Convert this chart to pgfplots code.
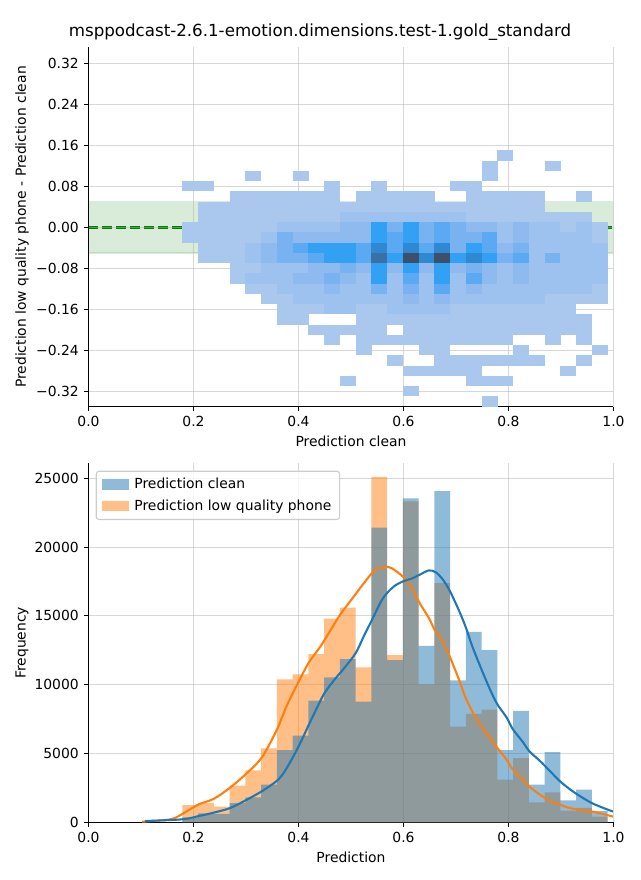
\documentclass[border=0pt]{standalone}
\usepackage{fontspec}
\setmainfont{DejaVu Sans}
\usepackage{pgfplots}
\pgfplotsset{compat=1.18}
\definecolor{mplblue}{RGB}{31,119,180}
\definecolor{mplorange}{RGB}{255,127,14}
\definecolor{mplgreen}{RGB}{0,128,0}
\definecolor{gridc}{RGB}{176,176,176}
\definecolor{legblue}{RGB}{143,187,217}
\definecolor{legorange}{RGB}{255,191,134}
\definecolor{legframe}{RGB}{204,204,204}
\pgfdeclareplotmark{hcell}{\pgfpathrectanglecorners{\pgfqpoint{-5.72pt}{-3.71pt}}{\pgfqpoint{5.72pt}{3.71pt}}\pgfusepathqfill}
\pgfplotsset{
  mplax/.style={
    scale only axis, width=378pt, height=258.6pt,
    xmin=0, xmax=1,
    axis x line*=bottom, axis y line*=left,
    axis line style={line width=0.8pt, black, -},
    tick align=outside, major tick length=3.5pt,
    major tick style={black, line width=0.8pt},
    grid=major, major grid style={gridc, opacity=0.5, line width=0.8pt},
    tick label style={font=\fontsize{10}{12}\selectfont},
    label style={font=\fontsize{10}{12}\selectfont},
    scaled x ticks=false, scaled y ticks=false,
    xtick={0,0.2,0.4,0.6,0.8,1}, xticklabels={0.0,0.2,0.4,0.6,0.8,1.0},
    every axis y label/.style={at={(axis description cs:-0.1267,0.5)}, rotate=90, anchor=center},
    every axis x label/.style={at={(axis description cs:0.5,-0.096)}, anchor=center},
  }
}
\begin{document}
\begin{tikzpicture}[x=1pt,y=1pt]
\useasboundingbox (0,0) rectangle (460.8,633.6);
\begin{axis}[mplax, at={(63.7pt,340.85pt)}, anchor=south west,
  ymin=-0.350, ymax=0.351,
  ytick={-0.32,-0.24,-0.16,-0.08,0,0.08,0.16,0.24,0.32},
  yticklabels={−0.32,−0.24,−0.16,−0.08,0.00,0.08,0.16,0.24,0.32},
  xlabel={Prediction clean},
  ylabel={Prediction low quality phone - Prediction clean},
  axis on top,
  colormap={sb}{rgb255=(170,200,238) rgb255=(158,194,239) rgb255=(142,186,240) rgb255=(120,178,241) rgb255=(90,169,242) rgb255=(50,161,243) rgb255=(46,137,210) rgb255=(58,112,166) rgb255=(60,80,105)},
  point meta min=1, point meta max=9]
\addplot[draw=mplgreen, draw opacity=0.15, fill=mplgreen, fill opacity=0.15, line width=1pt, forget plot]
  coordinates {(0,-0.05) (1,-0.05) (1,0.05) (0,0.05)} -- cycle;
\addplot[scatter, only marks, mark=hcell, point meta=explicit, scatter/use mapped color={fill=mapped color}, forget plot] coordinates {
(0.794,0.14)[1]
(0.764,0.12)[1] (0.884,0.12)[1]
(0.314,0.10)[1] (0.404,0.10)[1] (0.764,0.10)[1]
(0.194,0.08)[1] (0.224,0.08)[1] (0.464,0.08)[1] (0.554,0.08)[1] (0.704,0.08)[1] (0.734,0.08)[1]
(0.284,0.06)[1] (0.314,0.06)[1] (0.344,0.06)[1] (0.374,0.06)[1] (0.404,0.06)[1] (0.434,0.06)[1] (0.464,0.06)[1] (0.524,0.06)[1] (0.554,0.06)[1] (0.584,0.06)[1] (0.614,0.06)[1] (0.644,0.06)[1] (0.734,0.06)[1] (0.764,0.06)[1] (0.794,0.06)[1] (0.824,0.06)[1] (0.854,0.06)[1] (0.944,0.06)[1]
(0.224,0.04)[1] (0.254,0.04)[1] (0.284,0.04)[1] (0.314,0.04)[1] (0.344,0.04)[1] (0.374,0.04)[1] (0.404,0.04)[1] (0.434,0.04)[1] (0.464,0.04)[1] (0.494,0.04)[1] (0.524,0.04)[1] (0.554,0.04)[1] (0.584,0.04)[1] (0.614,0.04)[1] (0.644,0.04)[1] (0.674,0.04)[1] (0.704,0.04)[1] (0.734,0.04)[1] (0.764,0.04)[1] (0.794,0.04)[1] (0.824,0.04)[1] (0.854,0.04)[1]
(0.224,0.02)[1] (0.254,0.02)[1] (0.284,0.02)[1] (0.314,0.02)[1] (0.344,0.02)[1] (0.374,0.02)[1] (0.404,0.02)[1] (0.434,0.02)[1] (0.464,0.02)[1] (0.494,0.02)[2] (0.524,0.02)[2] (0.554,0.02)[2] (0.584,0.02)[2] (0.614,0.02)[2] (0.644,0.02)[2] (0.674,0.02)[2] (0.704,0.02)[2] (0.734,0.02)[1] (0.764,0.02)[1] (0.794,0.02)[1] (0.824,0.02)[1] (0.854,0.02)[1] (0.884,0.02)[1] (0.914,0.02)[1] (0.944,0.02)[1]
(0.194,0)[1] (0.224,0)[1] (0.254,0)[1] (0.284,0)[1] (0.314,0)[1] (0.344,0)[1] (0.374,0)[2] (0.404,0)[2] (0.434,0)[2] (0.464,0)[2] (0.494,0)[3] (0.524,0)[3] (0.554,0)[6] (0.584,0)[4] (0.614,0)[6] (0.644,0)[4] (0.674,0)[5] (0.704,0)[4] (0.734,0)[3] (0.764,0)[3] (0.794,0)[2] (0.824,0)[3] (0.854,0)[2] (0.884,0)[2] (0.914,0)[1] (0.944,0)[2] (0.974,0)[1]
(0.194,-0.02)[1] (0.224,-0.02)[1] (0.254,-0.02)[1] (0.284,-0.02)[1] (0.314,-0.02)[1] (0.344,-0.02)[2] (0.374,-0.02)[4] (0.404,-0.02)[3] (0.434,-0.02)[3] (0.464,-0.02)[3] (0.494,-0.02)[3] (0.524,-0.02)[3] (0.554,-0.02)[6] (0.584,-0.02)[5] (0.614,-0.02)[6] (0.644,-0.02)[4] (0.674,-0.02)[5] (0.704,-0.02)[4] (0.734,-0.02)[4] (0.764,-0.02)[5] (0.794,-0.02)[2] (0.824,-0.02)[3] (0.854,-0.02)[2] (0.884,-0.02)[2] (0.914,-0.02)[2] (0.944,-0.02)[2] (0.974,-0.02)[1]
(0.224,-0.04)[1] (0.254,-0.04)[1] (0.284,-0.04)[1] (0.314,-0.04)[2] (0.344,-0.04)[3] (0.374,-0.04)[4] (0.404,-0.04)[5] (0.434,-0.04)[6] (0.464,-0.04)[6] (0.494,-0.04)[6] (0.524,-0.04)[5] (0.554,-0.04)[7] (0.584,-0.04)[5] (0.614,-0.04)[7] (0.644,-0.04)[5] (0.674,-0.04)[7] (0.704,-0.04)[4] (0.734,-0.04)[6] (0.764,-0.04)[5] (0.794,-0.04)[3] (0.824,-0.04)[4] (0.854,-0.04)[2] (0.884,-0.04)[2] (0.914,-0.04)[2] (0.944,-0.04)[2] (0.974,-0.04)[2]
(0.224,-0.06)[1] (0.254,-0.06)[1] (0.284,-0.06)[1] (0.314,-0.06)[2] (0.344,-0.06)[3] (0.374,-0.06)[4] (0.404,-0.06)[4] (0.434,-0.06)[5] (0.464,-0.06)[6] (0.494,-0.06)[6] (0.524,-0.06)[5] (0.554,-0.06)[8] (0.584,-0.06)[6] (0.614,-0.06)[9] (0.644,-0.06)[7] (0.674,-0.06)[9] (0.704,-0.06)[6] (0.734,-0.06)[7] (0.764,-0.06)[6] (0.794,-0.06)[4] (0.824,-0.06)[5] (0.854,-0.06)[2] (0.884,-0.06)[4] (0.914,-0.06)[2] (0.944,-0.06)[2] (0.974,-0.06)[2]
(0.284,-0.08)[1] (0.314,-0.08)[1] (0.344,-0.08)[2] (0.374,-0.08)[2] (0.404,-0.08)[2] (0.434,-0.08)[3] (0.464,-0.08)[3] (0.494,-0.08)[4] (0.524,-0.08)[3] (0.554,-0.08)[6] (0.584,-0.08)[3] (0.614,-0.08)[6] (0.644,-0.08)[3] (0.674,-0.08)[6] (0.704,-0.08)[3] (0.734,-0.08)[4] (0.764,-0.08)[3] (0.794,-0.08)[2] (0.824,-0.08)[3] (0.854,-0.08)[2] (0.884,-0.08)[2] (0.914,-0.08)[2] (0.944,-0.08)[2] (0.974,-0.08)[2]
(0.284,-0.10)[1] (0.314,-0.10)[2] (0.344,-0.10)[2] (0.374,-0.10)[2] (0.404,-0.10)[3] (0.434,-0.10)[3] (0.464,-0.10)[4] (0.494,-0.10)[3] (0.524,-0.10)[2] (0.554,-0.10)[6] (0.584,-0.10)[2] (0.614,-0.10)[5] (0.644,-0.10)[2] (0.674,-0.10)[6] (0.704,-0.10)[2] (0.734,-0.10)[5] (0.764,-0.10)[3] (0.794,-0.10)[2] (0.824,-0.10)[3] (0.854,-0.10)[2] (0.884,-0.10)[2] (0.914,-0.10)[2] (0.944,-0.10)[2] (0.974,-0.10)[2]
(0.314,-0.12)[1] (0.344,-0.12)[1] (0.374,-0.12)[2] (0.404,-0.12)[2] (0.434,-0.12)[2] (0.464,-0.12)[3] (0.494,-0.12)[2] (0.524,-0.12)[2] (0.554,-0.12)[4] (0.584,-0.12)[2] (0.614,-0.12)[4] (0.644,-0.12)[2] (0.674,-0.12)[5] (0.704,-0.12)[2] (0.734,-0.12)[3] (0.764,-0.12)[2] (0.794,-0.12)[2] (0.824,-0.12)[2] (0.854,-0.12)[2] (0.884,-0.12)[2] (0.914,-0.12)[2] (0.944,-0.12)[2] (0.974,-0.12)[1]
(0.344,-0.14)[1] (0.374,-0.14)[1] (0.404,-0.14)[2] (0.434,-0.14)[2] (0.464,-0.14)[2] (0.494,-0.14)[2] (0.524,-0.14)[2] (0.554,-0.14)[2] (0.584,-0.14)[2] (0.614,-0.14)[3] (0.644,-0.14)[2] (0.674,-0.14)[3] (0.704,-0.14)[2] (0.734,-0.14)[2] (0.764,-0.14)[2] (0.794,-0.14)[2] (0.824,-0.14)[2] (0.854,-0.14)[2] (0.884,-0.14)[1] (0.914,-0.14)[1] (0.944,-0.14)[1] (0.974,-0.14)[1]
(0.374,-0.16)[1] (0.404,-0.16)[1] (0.434,-0.16)[1] (0.464,-0.16)[2] (0.494,-0.16)[2] (0.524,-0.16)[1] (0.554,-0.16)[1] (0.584,-0.16)[2] (0.614,-0.16)[2] (0.644,-0.16)[2] (0.674,-0.16)[2] (0.704,-0.16)[1] (0.734,-0.16)[1] (0.764,-0.16)[1] (0.794,-0.16)[1] (0.824,-0.16)[1] (0.854,-0.16)[1] (0.884,-0.16)[1] (0.914,-0.16)[1]
(0.374,-0.18)[1] (0.404,-0.18)[1] (0.524,-0.18)[1] (0.554,-0.18)[1] (0.584,-0.18)[1] (0.614,-0.18)[1] (0.644,-0.18)[1] (0.674,-0.18)[1] (0.704,-0.18)[1] (0.734,-0.18)[1] (0.764,-0.18)[1] (0.794,-0.18)[1] (0.824,-0.18)[1] (0.854,-0.18)[1] (0.884,-0.18)[1] (0.914,-0.18)[1] (0.944,-0.18)[1]
(0.434,-0.20)[1] (0.464,-0.20)[1] (0.494,-0.20)[1] (0.524,-0.20)[1] (0.554,-0.20)[1] (0.614,-0.20)[1] (0.644,-0.20)[1] (0.674,-0.20)[1] (0.704,-0.20)[1] (0.734,-0.20)[1] (0.764,-0.20)[1] (0.794,-0.20)[1] (0.824,-0.20)[1] (0.854,-0.20)[1] (0.884,-0.20)[1] (0.914,-0.20)[1] (0.944,-0.20)[1]
(0.464,-0.22)[1] (0.524,-0.22)[1] (0.554,-0.22)[1] (0.584,-0.22)[1] (0.614,-0.22)[1] (0.644,-0.22)[1] (0.674,-0.22)[1] (0.704,-0.22)[1] (0.734,-0.22)[1] (0.764,-0.22)[1] (0.794,-0.22)[1] (0.884,-0.22)[1] (0.944,-0.22)[1]
(0.524,-0.24)[1] (0.644,-0.24)[1] (0.674,-0.24)[1] (0.824,-0.24)[1] (0.974,-0.24)[1]
(0.584,-0.26)[1] (0.674,-0.26)[1] (0.704,-0.26)[1] (0.734,-0.26)[1] (0.764,-0.26)[1] (0.794,-0.26)[1] (0.824,-0.26)[1] (0.854,-0.26)[1] (0.944,-0.26)[1]
(0.614,-0.28)[1] (0.644,-0.28)[1] (0.674,-0.28)[1] (0.704,-0.28)[1] (0.734,-0.28)[1] (0.914,-0.28)[1]
(0.494,-0.30)[1] (0.734,-0.30)[1] (0.764,-0.30)[1] (0.794,-0.30)[1]
(0.614,-0.32)[1]
(0.764,-0.34)[1]
};
\addplot[mplgreen, line width=1.8pt, dash pattern=on 7pt off 3pt, forget plot] coordinates {(0,0) (1,0)};
\end{axis}

\begin{axis}[mplax, at={(63.7pt,41.5pt)}, anchor=south west,
  ymin=0, ymax=26100,
  ytick={0,5000,10000,15000,20000,25000},
  yticklabels={0,5000,10000,15000,20000,25000},
  xlabel={Prediction}, ylabel={Frequency},
  every axis x label/.style={at={(axis description cs:0.5,-0.0967)}, anchor=center},
  legend image code/.code={\fill[#1, sharp corners, fill opacity=1] (0pt,-3.75pt) rectangle (19.7pt,3.75pt); \path (21.5pt,0pt);},
  legend style={at={(axis description cs:0.0137,0.979)}, anchor=north west, draw=legframe, line width=0.8pt, rounded corners=2pt, fill=white, fill opacity=0.8, text opacity=1, font=\fontsize{10}{12}\selectfont, inner xsep=4pt, inner ysep=3pt, row sep=2.5pt},
  legend cell align=left]
\addlegendimage{fill=legblue, draw=none}
\addlegendentry{Prediction clean}
\addlegendimage{fill=legorange, draw=none}
\addlegendentry{Prediction low quality phone}
\addplot[const plot mark left, fill=mplorange, fill opacity=0.5, draw=none, forget plot] coordinates {
(0.179,1250) (0.209,1400) (0.239,1150) (0.269,2670) (0.299,3775) (0.329,5370) (0.359,10390) (0.389,10760) (0.419,12230) (0.449,14800) (0.479,15610) (0.509,11270) (0.539,25100) (0.569,12160) (0.599,23330) (0.629,10020) (0.659,17380) (0.689,6960) (0.719,7890) (0.749,8190) (0.779,3110) (0.809,4660) (0.839,1450) (0.869,2180) (0.899,860) (0.929,1050) (0.959,420) (0.989,420)
} \closedcycle;
\addplot[const plot mark left, fill=mplblue, fill opacity=0.5, draw=none, forget plot] coordinates {
(0.179,370) (0.209,660) (0.239,610) (0.269,1400) (0.299,1815) (0.329,2745) (0.359,5245) (0.389,6300) (0.419,8850) (0.449,10540) (0.479,11860) (0.509,8770) (0.539,21420) (0.569,11790) (0.599,23550) (0.629,12820) (0.659,24070) (0.689,10320) (0.719,13850) (0.749,12520) (0.779,5245) (0.809,8110) (0.839,2745) (0.869,5100) (0.899,1590) (0.929,2380) (0.959,830) (0.989,830)
} \closedcycle;
\addplot[mplorange, line width=1.5pt, smooth, forget plot] coordinates {
(0.102,49) (0.147,172) (0.166,343) (0.192,907) (0.211,1324) (0.239,1716) (0.269,2500) (0.299,3480) (0.330,4706) (0.358,6667) (0.378,8505) (0.397,9976) (0.419,11569) (0.442,12794) (0.462,14020) (0.480,15123) (0.509,16593) (0.526,17451) (0.545,18309) (0.564,18554) (0.577,18481) (0.600,17819) (0.616,16961) (0.632,15858) (0.648,14877) (0.659,14020) (0.674,13162) (0.688,12059) (0.706,10343) (0.719,8995) (0.735,7770) (0.749,6912) (0.764,6177) (0.778,5441) (0.796,4583) (0.808,3848) (0.828,3113) (0.839,2623) (0.860,2010) (0.879,1569) (0.898,1275) (0.918,1029) (0.937,907) (0.959,784) (0.982,588) (0.999,417)
};
\addplot[mplblue, line width=1.5pt, smooth, forget plot] coordinates {
(0.108,98) (0.179,221) (0.211,466) (0.239,711) (0.269,1029) (0.299,1593) (0.330,2255) (0.358,2990) (0.372,3603) (0.389,4706) (0.404,5809) (0.419,7034) (0.436,8382) (0.449,9363) (0.468,10343) (0.487,11201) (0.509,12304) (0.526,13652) (0.539,14632) (0.558,16103) (0.570,16716) (0.584,17206) (0.600,17525) (0.616,17721) (0.632,18015) (0.648,18309) (0.661,18187) (0.674,17696) (0.688,16838) (0.706,15368) (0.719,14142) (0.731,12794) (0.749,11078) (0.764,9730) (0.778,8628) (0.796,7647) (0.808,6789) (0.828,5809) (0.839,5196) (0.860,4461) (0.879,3726) (0.898,2990) (0.918,2377) (0.937,1887) (0.959,1397) (0.982,1029) (0.999,784)
};
\end{axis}
\node[anchor=base, font=\fontsize{12}{14.4}\selectfont] at (230.4,607) {msppodcast-2.6.1-emotion.dimensions.test-1.gold\_standard};
\end{tikzpicture}
\end{document}
